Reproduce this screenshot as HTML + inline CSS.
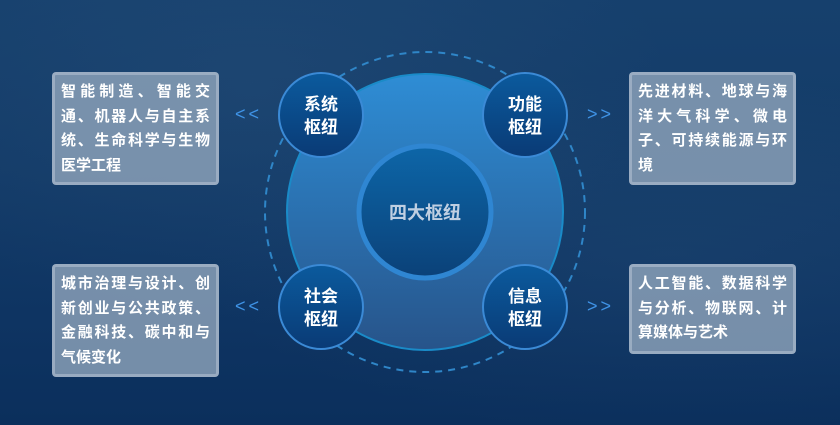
<!DOCTYPE html>
<html><head><meta charset="utf-8"><style>
*{margin:0;padding:0;box-sizing:border-box}
body{width:840px;height:425px;overflow:hidden;position:relative;
background:linear-gradient(180deg,#16406d 0%,#133b68 40%,#0e3462 75%,#0b2f5c 100%);
font-family:"Liberation Sans","Noto Sans CJK SC",sans-serif;}
.bgl{position:absolute;inset:0;background:radial-gradient(ellipse at 30% 20%,rgba(60,100,140,.2),transparent 50%),radial-gradient(ellipse at 80% 60%,rgba(60,100,140,.15),transparent 50%);}
.box{position:absolute;width:167px;background:rgba(148,168,190,.78);border:3px solid rgba(165,182,202,.75);border-radius:4px;padding:5px 6px 0 6px;color:#fff;font-size:15px;font-weight:bold;}
.box div{height:24.5px;line-height:24.5px;text-align:justify;text-align-last:justify;white-space:nowrap}
.box div.l{text-align-last:left}
.c{position:absolute;border-radius:50%}
.hub{width:86px;height:86px;border:2px solid #3b8ad6;background:linear-gradient(180deg,#0b5a9d,#0a3b76);color:#fff;font-size:17px;font-weight:bold;line-height:23px;text-align:center;padding-top:19px}
.arr{position:absolute;color:#3f93e6;font-size:18px;letter-spacing:3px;line-height:20px}
</style></head><body>
<div class="bgl"></div>
<svg style="position:absolute;left:0;top:0" width="840" height="425">
<circle cx="425" cy="212" r="160" fill="none" stroke="#2f86c8" stroke-width="2" stroke-dasharray="7 6"/>
<defs><linearGradient id="g" x1="0" y1="0" x2="0" y2="1"><stop offset="0" stop-color="#2e8dd5"/><stop offset="1" stop-color="#27548a"/></linearGradient>
<linearGradient id="g2" x1="0" y1="0" x2="0" y2="1"><stop offset="0" stop-color="#0d66a8"/><stop offset="1" stop-color="#0b4178"/></linearGradient></defs>
<circle cx="425" cy="212" r="138" fill="url(#g)" stroke="#1a8bc8" stroke-width="2"/>
<circle cx="425" cy="212" r="66" fill="url(#g2)" stroke="#2f86d2" stroke-width="5"/>
<text x="425" y="219" text-anchor="middle" fill="#bfcfe2" font-size="18" font-weight="bold" font-family="Liberation Sans, Noto Sans CJK SC, sans-serif">四大枢纽</text>
</svg>
<div class="c hub" style="left:278px;top:72px">系统<br>枢纽</div>
<div class="c hub" style="left:482px;top:72px">功能<br>枢纽</div>
<div class="c hub" style="left:278px;top:264px">社会<br>枢纽</div>
<div class="c hub" style="left:482px;top:264px">信息<br>枢纽</div>
<div class="arr" style="left:235px;top:104px">&lt;&lt;</div>
<div class="arr" style="left:587px;top:104px">&gt;&gt;</div>
<div class="arr" style="left:235px;top:296px">&lt;&lt;</div>
<div class="arr" style="left:587px;top:296px">&gt;&gt;</div>
<div class="box" style="left:52px;top:72px;height:113px"><div>智能制造、智能交</div><div>通、机器人与自主系</div><div>统、生命科学与生物</div><div class="l">医学工程</div></div>
<div class="box" style="left:629px;top:72px;height:113px"><div>先进材料、地球与海</div><div>洋大气科学、微电</div><div>子、可持续能源与环</div><div class="l">境</div></div>
<div class="box" style="left:52px;top:264px;height:113px"><div>城市治理与设计、创</div><div>新创业与公共政策、</div><div>金融科技、碳中和与</div><div class="l">气候变化</div></div>
<div class="box" style="left:629px;top:264px;height:90px"><div>人工智能、数据科学</div><div>与分析、物联网、计</div><div class="l">算媒体与艺术</div></div>
</body></html>
